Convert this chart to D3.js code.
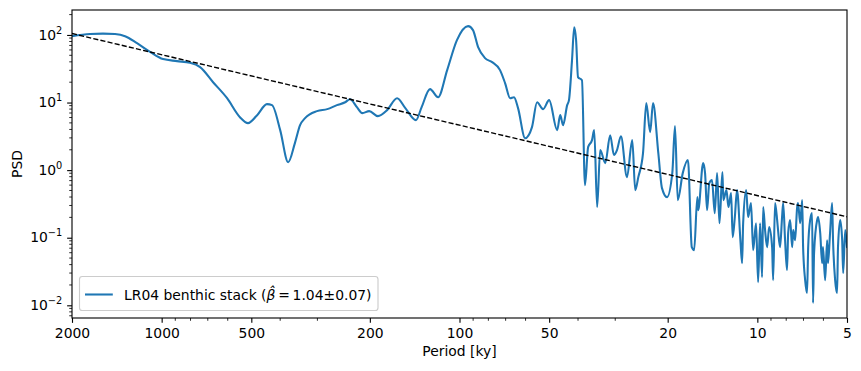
<!DOCTYPE html>
<html><head><meta charset="utf-8">
<script src="https://cdn.jsdelivr.net/npm/d3@7"></script>
<style>
body{margin:0;background:#fff;}
text{font-family:"DejaVu Sans",sans-serif;fill:#000;}
</style></head>
<body><svg id="c" width="861" height="371"></svg>
<script>
// ---- data ----
const period = [2000,1740,1574,1434,1327,1210,1094,989,888,803,743,672,603,546,513,478,443,426,400,376,357,343,330,301,278,258,242,233,221,212,201,188,175,162,152,140,134,125.6,118,110,102,93.6,90.1,86.6,82.1,77.7,73.1,70.3,67.6,65.6,63.6,60.2,57.1,54.9,52.4,50.0,47.0,45.9,44.9,43.5,42.9,41.9,41.2,40.6,40.0,38.8,37.9,37.0,35.9,35.3,34.5,33.7,32.4,31.2,30.3,29.6,28.7,27.4,26.3,25.7,25.1,24.2,23.6,22.9,22.4,21.5,20.9,20.1,19.3,18.9,18.5,17.8,17.1,
16.6,16.3,15.9,15.8,15.2,14.98,14.75,14.5,14.2,13.9,13.65,13.4,13.1,13.0,12.7,12.5,12.25,12.1,11.9,11.7,11.4,11.25,11.16,10.9,10.74,10.5,10.33,10.1,9.94,9.79,9.64,9.56,9.42,9.27,9.13,8.92,8.85,8.72,8.58,8.52,8.39,8.26,8.19,8.07,7.95,7.88,7.76,7.64,7.58,7.47,7.35,7.30,7.18,7.07,7.02,6.91,6.81,6.75,6.65,6.55,6.50,6.45,6.30,6.25,6.15,6.06,6.02,5.92,5.83,5.79,5.70,5.61,5.57,5.48,5.40,5.36,5.27,5.19,5.15,5.07,5.0];
const psd = [96,103,104.5,103,96,75.6,56.2,43.9,41,38.7,33.4,20,11.6,6.08,4.96,6.51,9.47,9.15,3.91,1.31,2.51,4.63,5.88,7.46,7.99,9.15,10.1,11.2,8.55,6.97,7.46,6.29,7.72,11.6,8.27,5.49,8.55,15.8,12.0,30.2,83.8,135,118,66,45.4,39.6,30.2,19.4,11.6,12.0,8.27,2.97,4.33,10.1,7.99,10.85,3.91,6.51,4.63,9.15,10.85,42.4,130,83.8,23.8,21.4,0.60,2.19,2.78,3.91,0.284,1.98,1.27,3.29,1.67,1.98,3.18,0.788,2.78,0.506,0.788,1.78,9.8,3.65,9.8,1.78,0.542,0.399,0.903,4.48,0.36,0.903,1.41,
0.0726,0.0656,0.399,0.256,1.27,0.903,0.256,0.642,0.711,0.231,0.903,0.164,0.934,0.36,0.506,0.284,0.457,0.102,0.202,0.506,0.092,0.042,0.164,0.506,0.202,0.325,0.0656,0.164,0.022,0.164,0.0261,0.284,0.1295,0.0726,0.1435,0.0726,0.0236,0.325,0.182,0.1295,0.0726,0.202,0.325,0.092,0.0332,0.117,0.182,0.0726,0.1295,0.092,0.284,0.325,0.164,0.36,0.0726,0.0236,0.0152,0.0726,0.182,0.231,0.0108,0.0592,0.182,0.202,0.117,0.042,0.0726,0.0236,0.092,0.042,0.117,0.325,0.092,0.0236,0.0152,0.0726,0.182,0.092,0.030,0.1295,0.0726];
const fitPeriod = [2000, 5];
const fitPsd = [105, 0.204];
const xTickValues = [2000,1000,500,200,100,50,20,10,5];
const yTickExponents = [-2,-1,0,1,2];
const legendLabel = "LR04 benthic stack (";
const legendMath = "\u2009=\u20091.04\u00b10.07)";
const xLabel = "Period [ky]";
const yLabel = "PSD";

// ---- layout ----
const L = 72, R = 847, T = 10, B = 318;
const svg = d3.select("#c");
const x = d3.scaleLog().domain([2000, 5]).range([L, R]);
const y = d3.scaleLog().domain([0.00649, 234]).range([B, T]);

svg.append("defs").append("clipPath").attr("id","clip")
  .append("rect").attr("x",L).attr("y",T).attr("width",R-L).attr("height",B-T);

// minor ticks
const xMinor = [];
for (let e = 0; e <= 3; e++) for (let k = 1; k <= 9; k++) {
  const v = k*Math.pow(10,e);
  if (v >= 5 && v <= 2000 && !xTickValues.includes(v)) xMinor.push(v);
}
const yMinor = [];
for (let e = -3; e <= 2; e++) for (let k = 2; k <= 9; k++) {
  const v = k*Math.pow(10,e);
  if (v >= 0.00649 && v <= 234) yMinor.push(v);
}

const gx = svg.append("g").attr("transform",`translate(0,${B})`);
gx.call(d3.axisBottom(x).tickValues(xTickValues).tickFormat(d3.format("d")).tickSizeOuter(0).tickSizeInner(4.86).tickPadding(4.86));
gx.select(".domain").remove();
gx.selectAll(".tick line").attr("stroke","#000").attr("stroke-width",1.11);
gx.selectAll(".tick text").attr("font-size","13.9px").attr("font-family","DejaVu Sans").attr("dy","0.74em");
gx.selectAll(".minor").data(xMinor).enter().append("line")
  .attr("x1",d=>x(d)).attr("x2",d=>x(d)).attr("y1",0).attr("y2",2.78)
  .attr("stroke","#000").attr("stroke-width",0.83);

const gy = svg.append("g").attr("transform",`translate(${L},0)`);
gy.call(d3.axisLeft(y).tickValues(yTickExponents.map(e=>Math.pow(10,e))).tickFormat("").tickSizeOuter(0).tickSizeInner(4.86));
gy.select(".domain").remove();
gy.selectAll(".tick line").attr("stroke","#000").attr("stroke-width",1.11);
gy.selectAll(".minor").data(yMinor).enter().append("line")
  .attr("x1",0).attr("x2",-2.78).attr("y1",d=>y(d)).attr("y2",d=>y(d))
  .attr("stroke","#000").attr("stroke-width",0.83);
yTickExponents.forEach(e => {
  const t = gy.append("text").attr("x",-9.7).attr("y",y(Math.pow(10,e))+4.6)
    .attr("text-anchor","end").attr("font-size","13.9px");
  t.append("tspan").text("10");
  t.append("tspan").attr("dy",-6).attr("font-size","9.8px").text(e<0 ? "\u2212"+(-e) : String(e));
});

// lines
const pts = period.map((p,i)=>[p, psd[i]]);
const line = d3.line().x(d=>x(d[0])).y(d=>y(d[1])).curve(d3.curveMonotoneX);
svg.append("path").datum(pts).attr("clip-path","url(#clip)")
  .attr("d",line).attr("fill","none").attr("stroke","#1f77b4")
  .attr("stroke-width",2.08).attr("stroke-linejoin","round").attr("stroke-linecap","round");

const fit = fitPeriod.map((p,i)=>[p, fitPsd[i]]);
svg.append("path").datum(fit).attr("clip-path","url(#clip)")
  .attr("d", d3.line().x(d=>x(d[0])).y(d=>y(d[1])))
  .attr("fill","none").attr("stroke","#000").attr("stroke-width",1.39)
  .attr("stroke-dasharray","5.1,2.2");

// frame
svg.append("rect").attr("x",L).attr("y",T).attr("width",R-L).attr("height",B-T)
  .attr("fill","none").attr("stroke","#000").attr("stroke-width",1.11);

// axis labels
svg.append("text").attr("x",(L+R)/2).attr("y",356).attr("text-anchor","middle")
  .attr("font-size","13.9px").text(xLabel);
svg.append("text").attr("transform",`translate(22,${(T+B)/2}) rotate(-90)`)
  .attr("text-anchor","middle").attr("font-size","13.9px").text(yLabel);

// legend
const lg = svg.append("g");
lg.append("rect").attr("x",79.5).attr("y",276.5).attr("width",298.5).attr("height",34)
  .attr("rx",2.8).attr("fill","#fff").attr("fill-opacity",0.8)
  .attr("stroke","#cccccc").attr("stroke-width",1.11);
lg.append("line").attr("x1",85).attr("x2",112.8).attr("y1",294.5).attr("y2",294.5)
  .attr("stroke","#1f77b4").attr("stroke-width",2.08);
const lt = lg.append("text").attr("x",124).attr("y",299.5).attr("font-size","13.9px");
lt.append("tspan").text(legendLabel);
lt.append("tspan").attr("font-style","italic").text("\u03b2\u0302");
lt.append("tspan").text(legendMath);
</script></body></html>
